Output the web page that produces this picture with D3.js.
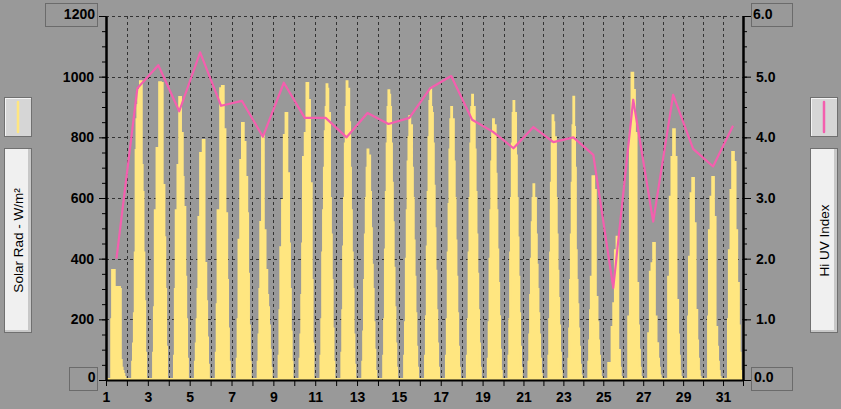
<!DOCTYPE html>
<html><head><meta charset="utf-8">
<script src="https://cdn.jsdelivr.net/npm/d3@7"></script>
<style>
html,body{margin:0;padding:0;background:#999999;}
svg{display:block;}
text{font-family:"Liberation Sans",Arial,sans-serif;}
</style></head><body>
<svg id="chart" width="841" height="409"></svg>
<script>
// ---------------- data ----------------
const days = [1,2,3,4,5,6,7,8,9,10,11,12,13,14,15,16,17,18,19,20,21,22,23,24,25,26,27,28,29,30,31];
const dayLabels = [1,3,5,7,9,11,13,15,17,19,21,23,25,27,29,31];
const solarTickLabels = [200,400,600,800,1000];
const uvTickLabels = [1,2,3,4,5];
const solarTitle = "Solar Rad - W/m²";
const uvTitle = "Hi UV Index";
const firstHour = 6; // each day's list starts at 06:00, one value per hour (night = 0)
const solarRad = [
  [200,363,363,363,280,280,307,307,307,307,300,66,40,30,20,10],
  [60,120,220,420,758,860,907,956,956,985,985,709,620,420,260,90],
  [90,240,560,560,765,765,765,982,982,979,979,643,643,471,300,110],
  [80,300,560,560,709,709,933,933,814,814,669,570,570,340,200,70],
  [60,120,200,300,537,537,748,748,748,791,791,386,386,260,140,50],
  [90,250,560,560,560,962,962,969,969,827,827,550,550,330,170,60],
  [70,200,462,462,725,725,847,847,785,785,669,669,550,350,180,60],
  [60,150,300,521,521,808,808,494,494,363,363,280,240,180,100,40],
  [80,230,438,438,593,593,808,808,880,880,682,682,450,300,160,60],
  [70,150,280,450,735,735,814,814,979,979,923,923,649,649,330,120],
  [80,200,420,560,700,820,900,975,960,820,880,600,480,330,170,60],
  [90,230,440,600,780,900,985,920,960,850,700,560,420,300,150,50],
  [60,160,330,480,600,700,760,700,740,620,500,380,300,190,100,30],
  [80,200,430,620,780,900,955,940,900,780,650,520,370,240,120,40],
  [80,190,400,560,720,800,870,780,840,700,600,460,340,220,110,40],
  [80,210,440,620,800,920,960,900,880,780,640,500,360,230,120,40],
  [80,200,420,580,760,860,900,840,860,720,600,460,340,220,110,40],
  [80,200,420,600,780,900,940,880,900,760,620,480,350,230,120,40],
  [70,190,400,560,720,820,860,800,840,680,560,430,320,210,100,30],
  [80,200,420,600,780,880,920,860,880,740,600,470,340,220,110,40],
  [60,150,280,400,520,600,645,580,600,480,380,300,220,150,70,20],
  [80,200,420,650,780,873,850,780,800,600,480,360,270,180,90,30],
  [70,170,330,480,650,840,934,834,700,428,330,250,170,110,50,15],
  [60,130,230,340,340,672,672,626,626,274,274,190,130,80,30,10],
  [56,56,56,56,175,175,253,253,428,428,472,472,99,99,40,10],
  [209,209,814,814,1013,1013,956,956,814,814,320,320,180,100,40,10],
  [154,154,357,357,385,385,452,452,209,209,121,121,70,40,15,5],
  [340,340,604,604,735,735,827,827,735,735,264,264,150,80,30,10],
  [209,406,406,616,616,666,666,517,517,231,231,130,70,30,10,0],
  [209,494,494,604,604,669,669,537,537,175,175,110,60,30,10,0],
  [200,428,428,626,626,752,752,719,719,494,494,320,320,180,90,30]
];
const uvIndex = [2.0,4.81,5.19,4.43,5.40,4.52,4.60,4.01,4.90,4.32,4.32,4.0,4.4,4.22,4.32,4.81,5.01,4.29,4.09,3.82,4.17,3.92,4.0,3.71,1.52,4.62,2.61,4.70,3.81,3.52,4.19];

// ---------------- layout ----------------
const C = {bg:"#999999", solar:"#ffe680", uv:"#f45fae", grid:"#333333", box:"#6b6b6b"};
const svg = d3.select("#chart");
svg.append("rect").attr("width",841).attr("height",409).attr("fill",C.bg);

const x = d3.scaleLinear().domain([1,20,32]).range([106,503.5,743]);
const y = d3.scaleLinear().domain([0,1200]).range([380,16]);
const yUV = d3.scaleLinear().domain([0,6]).range([380,16]);
const [xL,xR] = [x(1), x(32)];
const [yB,yT] = [y(0), y(1200)];

// gridlines
const grid = svg.append("g").attr("stroke",C.grid).attr("stroke-width",1).attr("stroke-dasharray","3,3");
grid.selectAll("line.h").data(d3.range(200,1201,200)).join("line")
  .attr("x1",xL).attr("x2",xR).attr("y1",d=>Math.round(y(d))+0.5).attr("y2",d=>Math.round(y(d))+0.5);
grid.selectAll("line.v").data(days.slice(1)).join("line")
  .attr("y1",yT).attr("y2",yB).attr("x1",d=>Math.round(x(d))+0.5).attr("x2",d=>Math.round(x(d))+0.5);

// solar series (hourly, step)
const pts = [];
days.forEach((d,i)=>{
  for(let h=0;h<24;h++){
    const k = h-firstHour;
    const v = (k>=0 && k<solarRad[i].length) ? solarRad[i][k] : 0;
    pts.push({t:d+h/24, v});
  }
});
pts.push({t:32, v:0});
const area = d3.area().x(p=>x(p.t)).y0(yB).y1(p=>y(p.v)).curve(d3.curveStepAfter);
const line = d3.line().x(p=>x(p.t)).y(p=>Math.min(y(p.v),yB-1)).curve(d3.curveStepAfter);
svg.append("path").datum(pts).attr("d",area).attr("fill",C.solar);
svg.append("path").datum(pts).attr("d",line).attr("fill","none").attr("stroke",C.solar).attr("stroke-width",2);

// UV line
const uvLine = d3.line().x((v,i)=>x(days[i]+0.5)).y(v=>yUV(v));
svg.append("path").datum(uvIndex).attr("d",uvLine).attr("fill","none")
  .attr("stroke",C.uv).attr("stroke-width",2.2).attr("stroke-linejoin","round");

// axes
function styleAxis(g){
  g.select(".domain").attr("stroke","#000").attr("stroke-width",2);
  g.selectAll(".tick line").attr("stroke","#000").attr("stroke-width",1);
  g.selectAll(".tick text").attr("fill","#000").style("font-family","'Liberation Sans',Arial,sans-serif")
    .style("font-weight","bold").style("font-size","14px");
}
const minor = d3.range(0,1201,50);
svg.append("g").attr("transform",`translate(${xL},0)`)
  .call(d3.axisLeft(y).tickValues(minor).tickSize(4).tickFormat("").tickSizeOuter(0)).call(styleAxis);
svg.append("g").attr("transform",`translate(${xL},0)`)
  .call(d3.axisLeft(y).tickValues([0,1200].concat(solarTickLabels)).tickSize(7).tickPadding(5).tickSizeOuter(0)
    .tickFormat(d=>solarTickLabels.includes(d)?d:"")).call(styleAxis);
svg.append("g").attr("transform",`translate(${xR},0)`)
  .call(d3.axisRight(yUV).tickValues(minor.map(v=>v/200)).tickSize(4).tickFormat("").tickSizeOuter(0)).call(styleAxis);
svg.append("g").attr("transform",`translate(${xR},0)`)
  .call(d3.axisRight(yUV).tickValues([0,6].concat(uvTickLabels)).tickSize(8).tickPadding(5).tickSizeOuter(0)
    .tickFormat(d=>uvTickLabels.includes(d)?d3.format(".1f")(d):"")).call(styleAxis);
svg.append("g").attr("transform",`translate(0,${yB})`)
  .call(d3.axisBottom(x).tickValues(days.concat([32])).tickSize(6).tickPadding(6).tickSizeOuter(0)
    .tickFormat(d=>dayLabels.includes(d)?d:"")).call(styleAxis);

// end-value boxes
function valBox(bx,by,bw,bh,label,anchor,tx,ty){
  svg.append("rect").attr("x",bx+0.5).attr("y",by+0.5).attr("width",bw).attr("height",bh)
    .attr("fill","none").attr("stroke",C.box).attr("stroke-width",1);
  svg.append("text").attr("x",tx).attr("y",ty).attr("text-anchor",anchor)
    .style("font-weight","bold").style("font-size","14px").attr("fill","#000").text(label);
}
valBox(45,3,52,23,"1200","end",95,18.5);
valBox(69,367,28,23,"0","end",95.5,382);
valBox(751,3,41,23,d3.format(".1f")(6),"start",753,18.5);
valBox(751,367,41,23,d3.format(".1f")(0),"start",754,382);

// legends
function legend(lx,color,title){
  const g = svg.append("g");
  g.append("rect").attr("x",lx+0.5).attr("y",97.5).attr("width",27).attr("height",39)
    .attr("fill","#d6d6d6").attr("stroke","#707070");
  g.append("line").attr("x1",lx+1.5).attr("x2",lx+1.5).attr("y1",98).attr("y2",136).attr("stroke","#f4f4f4");
  g.append("line").attr("x1",lx+1).attr("x2",lx+27).attr("y1",98.5).attr("y2",98.5).attr("stroke","#f4f4f4");
  g.append("line").attr("x1",lx+14).attr("x2",lx+14).attr("y1",102).attr("y2",132)
    .attr("stroke",color).attr("stroke-width",2.5).attr("stroke-linecap","round");
  g.append("rect").attr("x",lx+0.5).attr("y",148.5).attr("width",27).attr("height",184)
    .attr("fill","#f0f0f0").attr("stroke","#707070");
  g.append("rect").attr("x",lx+24).attr("y",149).attr("width",3).attr("height",183).attr("fill","#c8c8c8");
  g.append("rect").attr("x",lx+1).attr("y",330).attr("width",26).attr("height",2).attr("fill","#c8c8c8");
  g.append("text").attr("transform",`translate(${lx+14},240.5) rotate(-90)`)
    .attr("text-anchor","middle").attr("dominant-baseline","central")
    .style("font-size","13.5px").attr("fill","#000").text(title);
}
legend(4,C.solar,solarTitle);
legend(810,C.uv,uvTitle);
</script></body></html>
